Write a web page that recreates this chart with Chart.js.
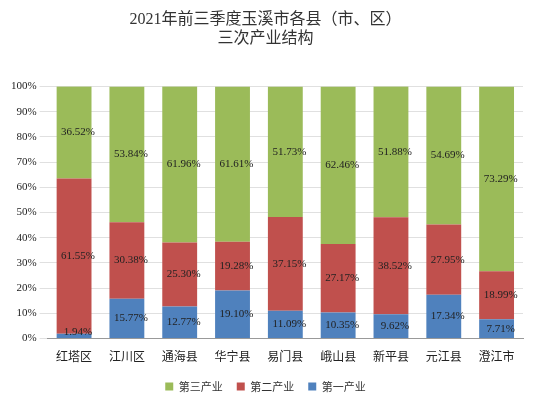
<!DOCTYPE html>
<html><head><meta charset="utf-8">
<script src="https://cdn.jsdelivr.net/npm/chart.js@4"></script>
<style>body{margin:0;background:#fff}#w{width:533px;height:408px}</style>
</head><body><div id="w"><canvas id="c"></canvas></div>
<script>
const categories=['红塔区','江川区','通海县','华宁县','易门县','峨山县','新平县','元江县','澄江市'];
const primary=[1.94,15.77,12.77,19.10,11.09,10.35,9.62,17.34,7.71];
const secondary=[61.55,30.38,25.30,19.28,37.15,27.17,38.52,27.95,18.99];
const tertiary=[36.52,53.84,61.96,61.61,51.73,62.46,51.88,54.69,73.29];
const yTicks=[0,10,20,30,40,50,60,70,80,90,100];
const serif='"Liberation Serif","Noto Sans CJK SC",serif';
const labelPlugin={id:'lbl',afterDatasetsDraw(ch){const ctx=ch.ctx;ctx.save();ctx.font='11px '+serif;ctx.fillStyle='#222';ctx.textAlign='center';ctx.textBaseline='middle';
ch.data.datasets.forEach((ds,i)=>{const m=ch.getDatasetMeta(i);m.data.forEach((b,j)=>{let y=(b.y+b.base)/2;if(ds.data[j]<4)y=b.base-6;ctx.fillText(ds.data[j].toFixed(2)+'%',b.x+4,y);});});ctx.restore();}};
new Chart(document.getElementById('c'),{type:'bar',
data:{labels:categories,datasets:[
{label:'第一产业',data:primary,backgroundColor:'#4f81bd'},
{label:'第二产业',data:secondary,backgroundColor:'#c0504d'},
{label:'第三产业',data:tertiary,backgroundColor:'#9bbb59'}]},
options:{responsive:true,maintainAspectRatio:false,animation:false,
layout:{padding:{left:8,right:10,top:4,bottom:6}},
datasets:{bar:{categoryPercentage:1,barPercentage:0.66}},
plugins:{title:{display:true,text:['2021年前三季度玉溪市各县（市、区）','三次产业结构'],font:{family:serif,size:16,weight:'normal'},color:'#333',padding:{top:6,bottom:38}},
legend:{position:'bottom',reverse:true,labels:{boxWidth:8,boxHeight:8,font:{family:'"Noto Sans CJK SC"',size:11},color:'#333',padding:14}},tooltip:{enabled:false}},
scales:{x:{stacked:true,grid:{display:false},border:{color:'#999'},ticks:{font:{family:'"Noto Sans CJK SC"',size:12},color:'#222'}},
y:{stacked:true,min:0,max:100,afterBuildTicks(a){a.ticks=yTicks.map(v=>({value:v}));},grid:{color:'#e0e0e0'},border:{display:false},ticks:{font:{family:serif,size:11},color:'#222',callback:v=>v+'%'}}}},
plugins:[labelPlugin]});
</script></body></html>
